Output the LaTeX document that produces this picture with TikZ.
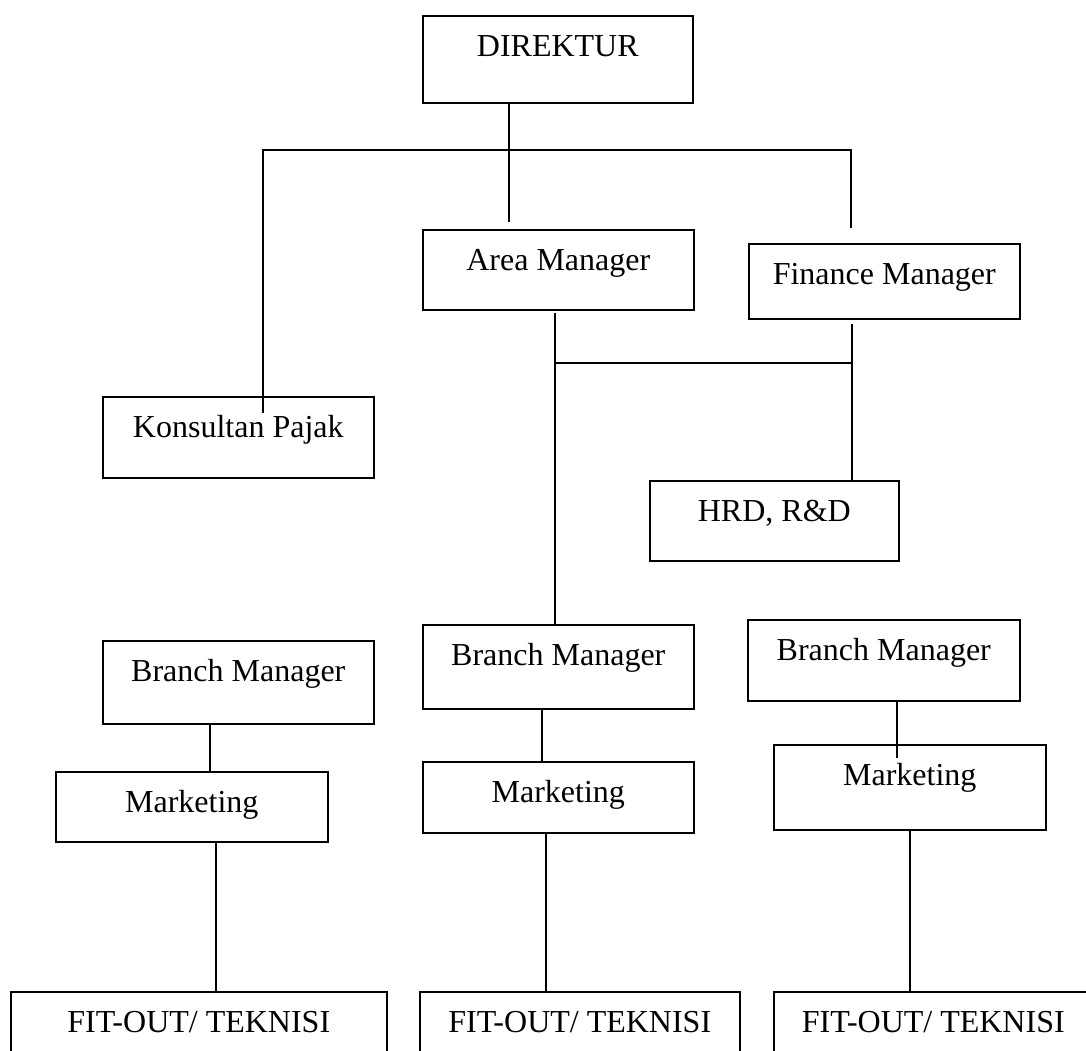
\documentclass[tikz,border=0pt]{standalone}
\usepackage{fontspec}
\setmainfont{Liberation Serif}
\tikzset{
  orgbox/.style={draw,line width=0.8pt,inner sep=0pt,anchor=north west,minimum width=135.5pt,
    text height=20.5pt,text depth=20pt,font=\fontsize{16}{19}\selectfont},
  link/.style={line width=1.1pt}
}
\begin{document}
\begin{tikzpicture}[x=0.5pt,y=-0.5pt]
  \useasboundingbox (0,0) rectangle (1086,1050);

  \node[orgbox,minimum width=135pt,text depth=23pt] (dir) at (422,15) {DIREKTUR};
  \node[orgbox,text depth=19.5pt] (am) at (422,229) {Area Manager};
  \node[orgbox,text depth=17pt] (fin) at (748,243) {Finance Manager};
  \node[orgbox] (kons) at (102,396) {Konsultan Pajak};
  \node[orgbox,minimum width=124.5pt,text depth=19.5pt] (hrd) at (649,480) {HRD, R\&D};

  \node[orgbox,text depth=21pt] (bmA) at (102,640) {Branch Manager};
  \node[orgbox,text depth=21.5pt] (bmB) at (422,624) {Branch Manager};
  \node[orgbox,minimum width=136pt] (bmC) at (747,619) {Branch Manager};
  \node[orgbox,minimum width=136pt,text depth=14.5pt] (mkA) at (55,771) {Marketing};
  \node[orgbox,text depth=15pt] (mkB) at (422,761) {Marketing};
  \node[orgbox,minimum width=136pt,text depth=22pt] (mkC) at (773,744) {Marketing};

  \node[orgbox,minimum width=188pt] (fitA) at (10,991) {FIT-OUT/ TEKNISI};
  \node[orgbox,minimum width=160pt] (fitB) at (419,991) {FIT-OUT/ TEKNISI};
  \node[orgbox,minimum width=159.5pt] (fitC) at (773,991) {FIT-OUT/ TEKNISI};

  \coordinate (busW) at (263,150);
  \coordinate (busE) at (851,150);
  \coordinate (konsEnd) at (263,413);
  \coordinate (finEnd) at (851,228);
  \coordinate (dirEnd) at (509,222);
  \draw[link] (konsEnd) -- (busW) -- (busE) -- (finEnd);
  \draw[link] (dir.south -| dirEnd) -- (dirEnd);

  \coordinate (amStart) at (555,313);
  \coordinate (hrdBus) at (555,363);
  \coordinate (finStart) at (852,324);
  \draw[link] (amStart) -- (bmB.north -| amStart);
  \draw[link] (hrdBus) -- (hrdBus -| finStart);
  \draw[link] (finStart) -- (hrd.north -| finStart);

  \draw[link] (bmA.south -| 210,0) -- (mkA.north -| 210,0);
  \draw[link] (bmB.south -| 542,0) -- (mkB.north -| 542,0);
  \coordinate (mkCin) at (897,758);
  \draw[link] (bmC.south -| mkCin) -- (mkCin);

  \foreach \m/\f/\x in {mkA/fitA/216,mkB/fitB/546,mkC/fitC/910}
    \draw[link] (\m.south -| \x,0) -- (\f.north -| \x,0);
\end{tikzpicture}
\end{document}
